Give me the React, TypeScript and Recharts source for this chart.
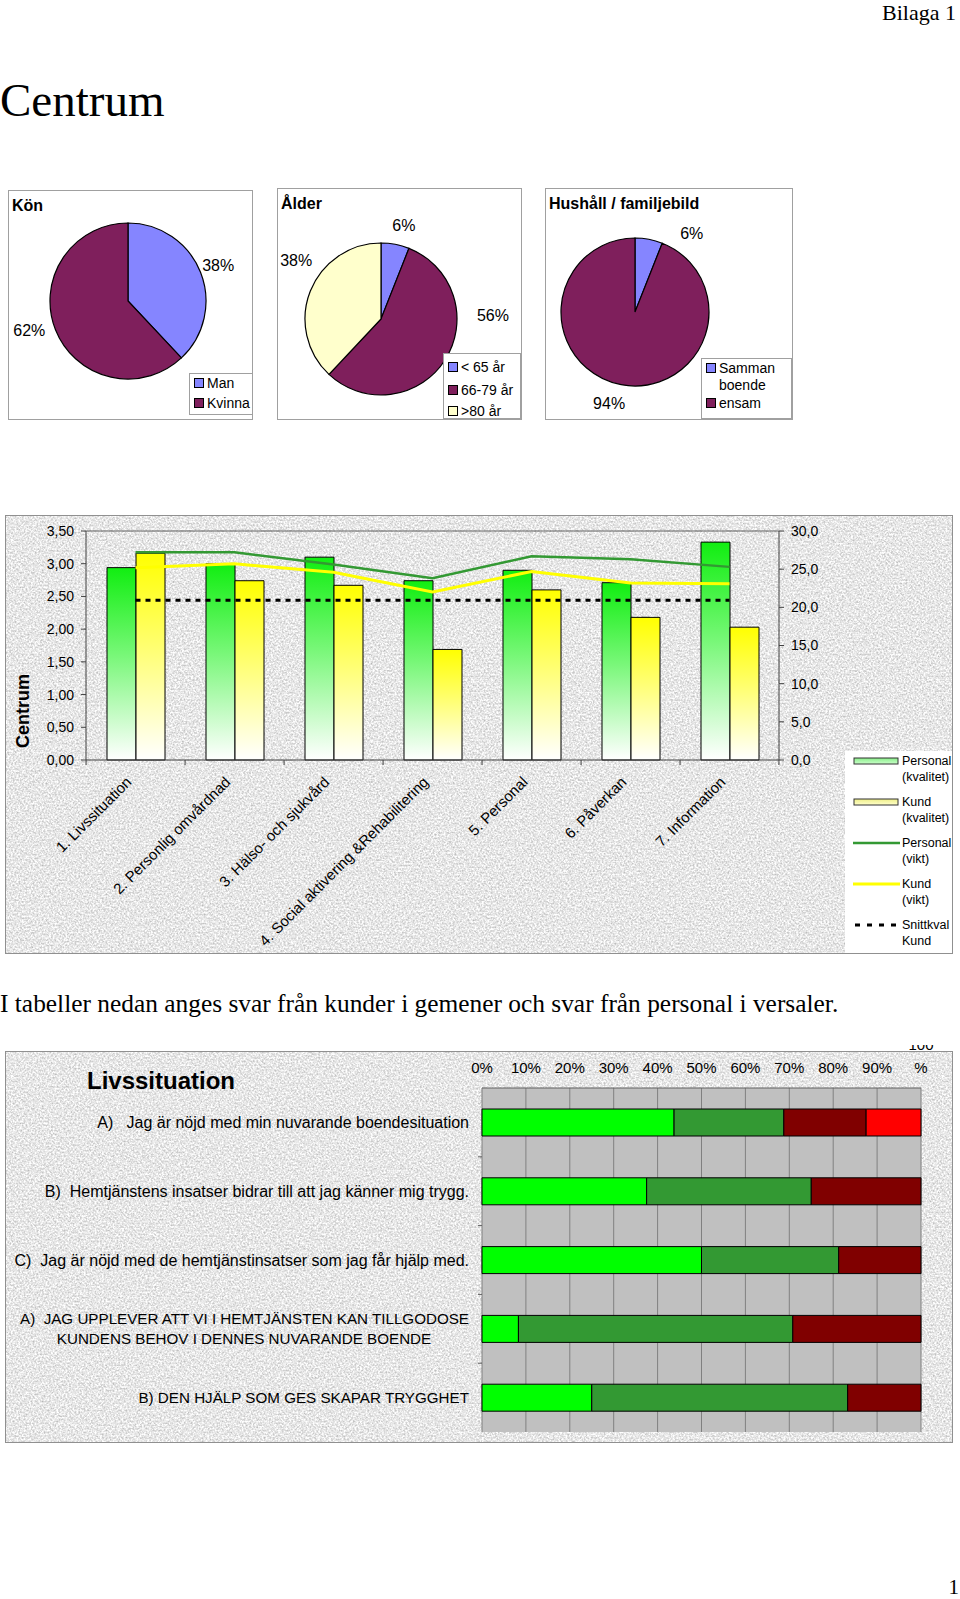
import React from 'react';
import {
  PieChart, Pie, Cell, ComposedChart, Bar, Line, XAxis, YAxis, BarChart, CartesianGrid, ReferenceLine,
} from 'recharts';

const SANS = '"Liberation Sans", Arial, Helvetica, sans-serif';
const SERIF = '"Liberation Serif", "Times New Roman", serif';

// ---------------- Pie data ----------------
const konNames = ['Man', 'Kvinna'];
const konValues = [38, 62];
const alderNames = ['< 65 år', '66-79 år', '>80 år'];
const alderValues = [6, 56, 38];
const hushallNames = ['Samman boende', 'ensam'];
const hushallValues = [6, 94];

// ---------------- Kvalitet / vikt ----------------
const categories = [
  '1. Livssituation',
  '2. Personlig omvårdnad',
  '3. Hälso- och sjukvård',
  '4. Social aktivering &Rehabilitering',
  '5. Personal',
  '6. Påverkan',
  '7. Information',
];
const personalKvalitet = [2.94, 3.0, 3.1, 2.74, 2.9, 2.71, 3.33];
const kundKvalitet = [3.16, 2.74, 2.67, 1.69, 2.6, 2.18, 2.03];
const personalVikt = [27.2, 27.2, 25.6, 23.8, 26.7, 26.3, 25.3];
const kundVikt = [25.2, 25.7, 24.6, 22.0, 24.7, 23.2, 23.1];
const snittkvalKund = [2.44, 2.44, 2.44, 2.44, 2.44, 2.44, 2.44];
const leftTicks = [0, 0.5, 1, 1.5, 2, 2.5, 3, 3.5];
const rightTicks = [0, 5, 10, 15, 20, 25, 30];

// ---------------- Livssituation ----------------
const questions = [
  'A)   Jag är nöjd med min nuvarande boendesituation',
  'B)  Hemtjänstens insatser bidrar till att jag känner mig trygg.',
  'C)  Jag är nöjd med de hemtjänstinsatser som jag får hjälp med.',
  'A)  JAG UPPLEVER ATT VI I HEMTJÄNSTEN KAN TILLGODOSE\nKUNDENS BEHOV I DENNES NUVARANDE BOENDE',
  'B) DEN HJÄLP SOM GES SKAPAR TRYGGHET',
];
const instammerHelt = [43.75, 37.5, 50, 8.3, 25];
const instammerDelvis = [25, 37.5, 31.25, 62.5, 58.3];
const tarDelvisAvstand = [18.75, 25, 18.75, 29.2, 16.7];
const tarHeltAvstand = [12.5, 0, 0, 0, 0];
const percentTicks = [0, 10, 20, 30, 40, 50, 60, 70, 80, 90, 100];

const PIE_COLORS = ['#8585ff', '#7f1f5c', '#ffffcc'];

function Granite({ id, w, h }: { id: string; w: number; h: number }) {
  return (
    <svg width={w} height={h} style={{ position: 'absolute', left: 0, top: 0 }}>
      <defs>
        <filter id={id} x="0" y="0" width="100%" height="100%" colorInterpolationFilters="sRGB">
          <feTurbulence type="fractalNoise" baseFrequency="0.55" numOctaves={3} seed={7} />
          <feColorMatrix
            type="matrix"
            values="0.45 0 0 0 0.68  0.45 0 0 0 0.68  0.45 0 0 0 0.68  0 0 0 0 1"
          />
        </filter>
      </defs>
      <rect width={w} height={h} fill="#e6e6e6" filter={`url(#${id})`} />
    </svg>
  );
}

type Adj = { da: number; dr: number };

function PiePanel(props: {
  left: number; top: number; w: number; h: number;
  title: string; names: string[]; values: number[];
  cx: number; cy: number; r: number; adj: Adj[];
  legend: { left: number; top: number; w: number; h: number; rows: { text: string; color?: string; y: number }[] };
}) {
  const { left, top, w, h, title, names, values, cx, cy, r, adj, legend } = props;
  const data = names.map((n, i) => ({ name: n, value: values[i] }));
  const RAD = Math.PI / 180;
  const renderLabel = (p: any) => {
    const a = adj[p.index] || { da: 0, dr: 20 };
    const ang = (p.midAngle + a.da) * RAD;
    const rr = p.outerRadius + a.dr;
    const x = p.cx + rr * Math.cos(ang);
    const y = p.cy - rr * Math.sin(ang);
    return (
      <text x={x} y={y} textAnchor="middle" dominantBaseline="central" fontSize={16} fontFamily={SANS} fill="#000">
        {p.value}%
      </text>
    );
  };
  return (
    <div style={{ position: 'absolute', left, top, width: w, height: h, border: '1px solid #a0a0a0', background: '#fff', boxSizing: 'border-box' }}>
      <div style={{ position: 'absolute', left: 3, top: 6, font: `bold 16px ${SANS}`, lineHeight: '18px', whiteSpace: 'nowrap' }}>{title}</div>
      <PieChart width={w - 2} height={h - 2} margin={{ top: 0, right: 0, bottom: 0, left: 0 }} style={{ position: 'absolute', left: 0, top: 0 }}>
        <Pie
          data={data}
          dataKey="value"
          cx={cx}
          cy={cy}
          outerRadius={r}
          startAngle={90}
          endAngle={-270}
          stroke="#000"
          strokeWidth={1.2}
          label={renderLabel}
          labelLine={false}
          isAnimationActive={false}
        >
          {data.map((d, i) => (
            <Cell key={d.name} fill={PIE_COLORS[i]} />
          ))}
        </Pie>
      </PieChart>
      <div style={{ position: 'absolute', left: legend.left, top: legend.top, width: legend.w, height: legend.h, border: '1px solid #a0a0a0', background: '#fff', boxSizing: 'border-box' }}>
        {legend.rows.map((row, i) => (
          <React.Fragment key={i}>
            {row.color && (
              <div style={{ position: 'absolute', left: 4, top: row.y - 5, width: 8, height: 8, background: row.color, border: '1px solid #000' }} />
            )}
            <div style={{ position: 'absolute', left: 17, top: row.y - 8, font: `14px ${SANS}`, lineHeight: '16px', whiteSpace: 'nowrap' }}>{row.text}</div>
          </React.Fragment>
        ))}
      </div>
    </div>
  );
}

const PLOT_W = 692;

function CatTick(props: any) {
  const { x, y, payload, index } = props;
  const half = PLOT_W / categories.length / 2;
  return (
    <g>
      <line x1={x - half} x2={x - half} y1={y} y2={y + 5} stroke="#404040" />
      {index === categories.length - 1 && <line x1={x + half} x2={x + half} y1={y} y2={y + 5} stroke="#404040" />}
      <text
        transform={`translate(${x - 3},${y + 23}) rotate(-45)`}
        textAnchor="end"
        fontSize={15}
        fontFamily={SANS}
        fill="#000"
      >
        {payload.value}
      </text>
    </g>
  );
}

function QualityChart() {
  const data = categories.map((c, i) => ({
    name: c,
    pk: personalKvalitet[i],
    kk: kundKvalitet[i],
    pv: personalVikt[i],
    kv: kundVikt[i],
    sk: snittkvalKund[i],
  }));
  const W = 948;
  const H = 439;
  const legendRows = [
    { t: 'Personal', y: 10 }, { t: '(kvalitet)', y: 26 },
    { t: 'Kund', y: 51 }, { t: '(kvalitet)', y: 67 },
    { t: 'Personal', y: 92 }, { t: '(vikt)', y: 108 },
    { t: 'Kund', y: 133 }, { t: '(vikt)', y: 149 },
    { t: 'Snittkval', y: 174 }, { t: 'Kund', y: 190 },
  ];
  return (
    <div style={{ position: 'absolute', left: 5, top: 515, width: W, height: H, border: '1px solid #909090', boxSizing: 'border-box', overflow: 'hidden' }}>
      <Granite id="g1" w={W} h={H} />
      <ComposedChart
        width={W}
        height={H}
        data={data}
        margin={{ top: 15, right: 115, bottom: 0, left: -1 }}
        barGap={0}
        barSize={29}
        style={{ position: 'absolute', left: 0, top: 0 }}
      >
        <defs>
          <linearGradient id="gradGreen" x1="0" y1="0" x2="0" y2="1">
            <stop offset="0" stopColor="#11ee11" />
            <stop offset="0.45" stopColor="#77f777" />
            <stop offset="1" stopColor="#ffffff" />
          </linearGradient>
          <linearGradient id="gradYellow" x1="0" y1="0" x2="0" y2="1">
            <stop offset="0" stopColor="#ffff00" />
            <stop offset="0.45" stopColor="#ffff70" />
            <stop offset="1" stopColor="#ffffff" />
          </linearGradient>
        </defs>
        <XAxis
          dataKey="name"
          height={195}
          interval={0}
          tickLine={false}
          tickSize={0}
          tickMargin={0}
          axisLine={{ stroke: '#404040' }}
          tick={(p: any) => <CatTick {...p} />}
        />
        <YAxis
          yAxisId="left"
          domain={[0, 3.5]}
          ticks={leftTicks}
          interval={0}
          width={81}
          tickSize={5}
          tickMargin={7}
          axisLine={{ stroke: '#404040' }}
          tickLine={{ stroke: '#404040' }}
          tick={{ fontSize: 14, fontFamily: SANS, fill: '#000' }}
          tickFormatter={(v: number) => v.toFixed(2).replace('.', ',')}
          label={(p: any) => {
            const vb = p.viewBox || {};
            return (
              <text
                transform={`translate(17,${(vb.y || 15) + 180}) rotate(-90)`}
                textAnchor="middle"
                dominantBaseline="central"
                fontSize={18}
                fontWeight="bold"
                fontFamily={SANS}
                fill="#000"
              >
                Centrum
              </text>
            );
          }}
        />
        <YAxis
          yAxisId="right"
          orientation="right"
          domain={[0, 30]}
          ticks={rightTicks}
          interval={0}
          width={60}
          tickSize={5}
          tickMargin={7}
          axisLine={{ stroke: '#404040' }}
          tickLine={{ stroke: '#404040' }}
          tick={{ fontSize: 14, fontFamily: SANS, fill: '#000', textAnchor: 'start' }}
          tickFormatter={(v: number) => v.toFixed(1).replace('.', ',')}
        />
        <ReferenceLine yAxisId="left" y={3.5} stroke="#606060" strokeWidth={1} />
        <Bar yAxisId="left" dataKey="pk" fill="url(#gradGreen)" stroke="#000" strokeWidth={1} isAnimationActive={false} />
        <Bar yAxisId="left" dataKey="kk" fill="url(#gradYellow)" stroke="#000" strokeWidth={1} isAnimationActive={false} />
        <Line yAxisId="right" dataKey="pv" stroke="#339933" strokeWidth={2.5} dot={false} isAnimationActive={false} />
        <Line yAxisId="right" dataKey="kv" stroke="#ffff00" strokeWidth={3} dot={false} isAnimationActive={false} />
        <Line yAxisId="left" dataKey="sk" stroke="#000" strokeWidth={3} strokeDasharray="5 5" dot={false} isAnimationActive={false} />
      </ComposedChart>
      <svg width={110} height={204} style={{ position: 'absolute', left: 839, top: 235, background: '#fff' }}>
        <defs>
          <linearGradient id="lgG" x1="0" y1="0" x2="0" y2="1">
            <stop offset="0" stopColor="#88ee88" />
            <stop offset="1" stopColor="#ccffcc" />
          </linearGradient>
          <linearGradient id="lgY" x1="0" y1="0" x2="0" y2="1">
            <stop offset="0" stopColor="#eeee88" />
            <stop offset="1" stopColor="#ffffcc" />
          </linearGradient>
        </defs>
        <rect x={9} y={7} width={44} height={6} fill="url(#lgG)" stroke="#333" strokeWidth={1} />
        <rect x={9} y={48} width={44} height={6} fill="url(#lgY)" stroke="#333" strokeWidth={1} />
        <line x1={8} x2={55} y1={92} y2={92} stroke="#339933" strokeWidth={2.5} />
        <line x1={8} x2={55} y1={133} y2={133} stroke="#ffff00" strokeWidth={3} />
        <line x1={10} x2={55} y1={174} y2={174} stroke="#000" strokeWidth={3} strokeDasharray="5 7" />
        {legendRows.map((r, i) => (
          <text key={i} x={57} y={r.y} dominantBaseline="central" fontSize={12.5} fontFamily={SANS} fill="#000">
            {r.t}
          </text>
        ))}
      </svg>
    </div>
  );
}

function PctTick(props: any) {
  const { x, y, payload } = props;
  const v = payload.value as number;
  if (v === 100) {
    return (
      <g>
        <text x={x} y={y - 38} textAnchor="middle" fontSize={15} fontFamily={SANS} fill="#000">100</text>
        <text x={x} y={y - 21} textAnchor="middle" dominantBaseline="central" fontSize={15} fontFamily={SANS} fill="#000">%</text>
      </g>
    );
  }
  return (
    <text x={x} y={y - 21} textAnchor="middle" dominantBaseline="central" fontSize={15} fontFamily={SANS} fill="#000">
      {v}%
    </text>
  );
}

function QTick(props: any) {
  const { x, y, payload, index } = props;
  const text = String(payload.value);
  const lines = text.split('\n');
  const band = 344 / questions.length;
  const style = { whiteSpace: 'pre' as const };
  const upper = text === text.toUpperCase();
  const fs = upper ? 15.2 : 16;
  return (
    <g>
      {index < questions.length - 1 && (
        <line x1={x - 4} x2={x} y1={y + band / 2} y2={y + band / 2} stroke="#606060" />
      )}
      {lines.length === 1 ? (
        <text x={x - 13} y={y} textAnchor="end" dominantBaseline="central" fontSize={fs} fontFamily={SANS} fill="#000" style={style}>
          {lines[0]}
        </text>
      ) : (
        <g>
          <text x={x - 13} y={y - 10} textAnchor="end" dominantBaseline="central" fontSize={fs} fontFamily={SANS} fill="#000" style={style}>
            {lines[0]}
          </text>
          <text x={x - 238} y={y + 10} textAnchor="middle" dominantBaseline="central" fontSize={fs} fontFamily={SANS} fill="#000" style={style}>
            {lines[1]}
          </text>
        </g>
      )}
    </g>
  );
}

function LivsChart() {
  const data = questions.map((q, i) => ({
    q,
    a: instammerHelt[i],
    b: instammerDelvis[i],
    c: tarDelvisAvstand[i],
    d: tarHeltAvstand[i],
  }));
  return (
    <>
      <div style={{ position: 'absolute', left: 5, top: 1051, width: 948, height: 392, border: '1px solid #909090', boxSizing: 'border-box', overflow: 'hidden' }}>
        <Granite id="g2" w={948} h={392} />
        <div style={{ position: 'absolute', left: 81, top: 16, font: `bold 24px ${SANS}`, lineHeight: '26px', whiteSpace: 'nowrap' }}>Livssituation</div>
      </div>
      <div style={{ position: 'absolute', left: 5, top: 1045, width: 948, height: 398, overflow: 'hidden' }}>
        <BarChart
          layout="vertical"
          width={948}
          height={398}
          data={data}
          margin={{ top: 0, right: 32, bottom: 11, left: 0 }}
          barSize={27}
        >
          <CartesianGrid horizontal={false} vertical stroke="#808080" fill="#c0c0c0" />
          <XAxis
            type="number"
            orientation="top"
            domain={[0, 100]}
            ticks={percentTicks}
            interval={0}
            height={43}
            tickLine={false}
            tickSize={0}
            tickMargin={0}
            axisLine={{ stroke: '#606060' }}
            tick={(p: any) => <PctTick {...p} />}
          />
          <YAxis
            type="category"
            dataKey="q"
            width={477}
            interval={0}
            tickLine={false}
            tickSize={0}
            tickMargin={0}
            axisLine={false}
            tick={(p: any) => <QTick {...p} />}
          />
          <Bar dataKey="a" stackId="s" fill="#00ff00" stroke="#000" strokeWidth={1} isAnimationActive={false} />
          <Bar dataKey="b" stackId="s" fill="#339933" stroke="#000" strokeWidth={1} isAnimationActive={false} />
          <Bar dataKey="c" stackId="s" fill="#800000" stroke="#000" strokeWidth={1} isAnimationActive={false} />
          <Bar dataKey="d" stackId="s" fill="#ff0000" stroke="#000" strokeWidth={1} isAnimationActive={false} />
        </BarChart>
      </div>
    </>
  );
}

export default function App() {
  return (
    <div style={{ position: 'absolute', left: 0, top: 0, width: 960, height: 1599, background: '#fff', overflow: 'hidden' }}>
      <div style={{ position: 'absolute', right: 4, top: 2, font: `22px ${SERIF}`, lineHeight: '22px' }}>Bilaga 1</div>
      <div style={{ position: 'absolute', left: 0, top: 77, font: `47px ${SERIF}`, lineHeight: '47px' }}>Centrum</div>

      <PiePanel
        left={8} top={190} w={245} h={230}
        title="Kön" names={konNames} values={konValues}
        cx={119} cy={110} r={78}
        adj={[{ da: 0, dr: 19 }, { da: -5, dr: 25 }]}
        legend={{ left: 180, top: 182, w: 64, h: 42, rows: [
          { text: konNames[0], color: PIE_COLORS[0], y: 9 },
          { text: konNames[1], color: PIE_COLORS[1], y: 29 },
        ] }}
      />
      <PiePanel
        left={277} top={188} w={245} h={232}
        title="Ålder" names={alderNames} values={alderValues}
        cx={103} cy={130} r={76}
        adj={[{ da: -3, dr: 20 }, { da: 34, dr: 36 }, { da: -13, dr: 27 }]}
        legend={{ left: 165, top: 164, w: 78, h: 66, rows: [
          { text: alderNames[0], color: PIE_COLORS[0], y: 13 },
          { text: alderNames[1], color: PIE_COLORS[1], y: 36 },
          { text: alderNames[2], color: PIE_COLORS[2], y: 57 },
        ] }}
      />
      <PiePanel
        left={545} top={188} w={248} h={232}
        title="Hushåll / familjebild" names={hushallNames} values={hushallValues}
        cx={89} cy={123} r={74}
        adj={[{ da: -25, dr: 23 }, { da: -5, dr: 21 }]}
        legend={{ left: 155, top: 169, w: 91, h: 61, rows: [
          { text: 'Samman', color: PIE_COLORS[0], y: 9 },
          { text: 'boende', y: 26 },
          { text: hushallNames[1], color: PIE_COLORS[1], y: 44 },
        ] }}
      />

      <QualityChart />

      <div style={{ position: 'absolute', left: 0, top: 991, font: `25.4px ${SERIF}`, lineHeight: '25px', whiteSpace: 'nowrap' }}>
        I tabeller nedan anges svar från kunder i gemener och svar från personal i versaler.
      </div>

      <LivsChart />

      <div style={{ position: 'absolute', right: 1, top: 1577, font: `21px ${SERIF}`, lineHeight: '21px' }}>1</div>
    </div>
  );
}
